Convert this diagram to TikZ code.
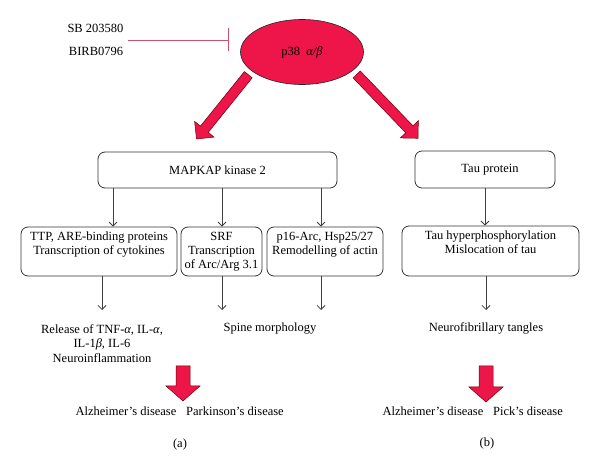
\documentclass[tikz,border=0pt]{standalone}
\usepackage{fontspec}
\setmainfont{Liberation Serif}
\usetikzlibrary{arrows.meta,calc,shapes.geometric}
\definecolor{pred}{RGB}{238,22,72}
\definecolor{inhib}{RGB}{205,80,110}
\tikzset{
  rbox/.style={draw=black!80, line width=0.8pt, rounded corners=7pt, inner sep=0pt,
    font=\fontsize{12.5}{14}\selectfont, align=center},
  txt/.style={font=\fontsize{12.5}{14.5}\selectfont, align=center, inner sep=0pt},
  thinarr/.style={draw=black!75, line width=0.8pt, -{Straight Barb[length=4pt,width=8pt]}},
  fat/.style={fill=pred, draw=black!60!red, line width=0.5pt, line join=miter},
}
\newcommand{\fatarr}[5]{% #1 shaft half, #2 head half, #3 head length, #4 tail, #5 tip
  \coordinate (fa-b) at ($(#5)!#3!(#4)$);
  \filldraw[fat] ($(#4)!#1!90:(#5)$) -- ($(fa-b)!#1!90:(#5)$) -- ($(fa-b)!#2!90:(#5)$)
    -- (#5) -- ($(fa-b)!#2!-90:(#5)$) -- ($(fa-b)!#1!-90:(#5)$) -- ($(#4)!#1!-90:(#5)$) -- cycle;
}
\begin{document}
\begin{tikzpicture}[x=1pt,y=-1pt]
\useasboundingbox (0,0) rectangle (600,470);

% inhibitors
\node[txt, anchor=base] (sb) at (95.5,33) {SB 203580};
\node[txt, anchor=base] (birb) at (96,56) {BIRB0796};
\coordinate (inh-s) at (128,40);
\coordinate (inh-e) at (229,40);
\draw[inhib, line width=0.7pt, -{Bar[width=23pt]}] (inh-s) -- (inh-e);

% p38
\node[ellipse, fill=pred, draw=black!85, line width=0.6pt, minimum width=123pt, minimum height=65pt,
  inner sep=0pt] (p38) at (302,52) {};
\node[txt, anchor=base] (p38t) at (302,56) {p38\ \ \textit{α/β}};

% big arrows
\coordinate (la-t) at (248.3,74.7);
\coordinate (la-p) at (196.5,139);
\coordinate (ra-t) at (356.7,74.5);
\coordinate (ra-p) at (418,138.3);
\fatarr{5pt}{12.5pt}{12.5pt}{la-t}{la-p}
\fatarr{5pt}{12.5pt}{12.5pt}{ra-t}{ra-p}

% first row boxes
\node[rbox, minimum width=239pt, minimum height=36pt] (mapk) at (217.5,170) {MAPKAP kinase 2};
\node[rbox, minimum width=140pt, minimum height=37pt] (tau) at (485,169.5) {\hspace*{10pt}Tau protein};

% second row boxes
\node[rbox, minimum width=156pt, minimum height=49pt] (ttp) at (99,251.5)
  {TTP, ARE-binding proteins\\Transcription of cytokines\\[3pt]};
\node[rbox, minimum width=81pt, minimum height=49pt] (srf) at (221.5,251.5)
  {SRF\\Transcription\\of Arc/Arg 3.1};
\node[rbox, minimum width=116pt, minimum height=49pt] (p16) at (325,251.5)
  {p16-Arc, Hsp25/27\\Remodelling of actin\\[3pt]};
\node[rbox, minimum width=177pt, minimum height=50pt] (tauh) at (490.5,251)
  {Tau hyperphosphorylation\\Mislocation of tau\\[3pt]};

% x positions of thin arrows
\coordinate (xa) at (113,0);
\coordinate (xb) at (222,0);
\coordinate (xc) at (321,0);
\coordinate (xd) at (485,0);
\coordinate (xe) at (102,0);
\coordinate (xf) at (222,0);
\coordinate (xg) at (321,0);
\coordinate (xh) at (486,0);

\draw[thinarr] (xa |- mapk.south) -- (xa |- ttp.north);
\draw[thinarr] (xb |- mapk.south) -- (xb |- srf.north);
\draw[thinarr] (xc |- mapk.south) -- (xc |- p16.north);
\draw[thinarr] (xd |- tau.south) -- (xd |- tauh.north);

% outcomes
\node[txt] (rel) at (102,343.5) {Release of TNF-\textit{α}, IL-\textit{α},\\IL-1\textit{β}, IL-6\\Neuroinflammation};
\node[txt, anchor=base] (spine) at (270,332) {Spine morphology};
\node[txt, anchor=base] (neuro) at (486,332) {Neurofibrillary tangles};

\coordinate (ye) at (0,310);
\draw[thinarr] (xe |- ttp.south) -- (xe |- ye);
\draw[thinarr] (xf |- srf.south) -- (xf |- ye);
\draw[thinarr] (xg |- p16.south) -- (xg |- ye);
\draw[thinarr] (xh |- tauh.south) -- (xh |- ye);

% disease arrows
\coordinate (da-t) at (183,366);
\coordinate (da-p) at (183,401);
\coordinate (db-t) at (486,366);
\coordinate (db-p) at (486,402);
\fatarr{7pt}{17pt}{15pt}{da-t}{da-p}
\fatarr{7pt}{17pt}{15pt}{db-t}{db-p}

\node[txt, anchor=base] (alz1) at (126,415) {Alzheimer’s disease};
\node[txt, anchor=base] (park) at (235,415) {Parkinson’s disease};
\node[txt, anchor=base] (alz2) at (433,415) {Alzheimer’s disease};
\node[txt, anchor=base] (pick) at (528,415) {Pick’s disease};

\node[txt, anchor=base] (la) at (180,447) {(a)};
\node[txt, anchor=base] (lb) at (487,446) {(b)};
\end{tikzpicture}
\end{document}
